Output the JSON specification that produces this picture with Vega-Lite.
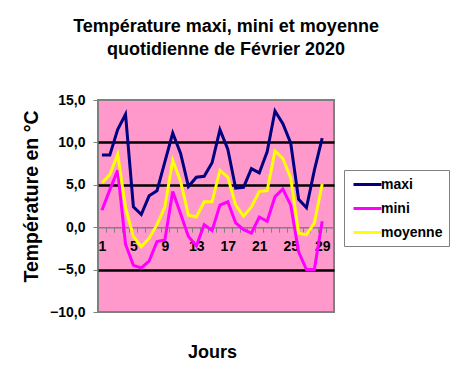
{
  "$schema": "https://vega.github.io/schema/vega-lite/v6.json",
  "autosize": {"type": "none"},
  "padding": {"left": 98, "top": 100, "right": 129, "bottom": 62},
  "width": 236,
  "height": 212,
  "background": "white",
  "title": {
    "text": ["Température maxi, mini et moyenne", "quotidienne de Février 2020"],
    "font": "Liberation Sans",
    "fontSize": 18,
    "fontWeight": "bold",
    "color": "black",
    "anchor": "middle",
    "frame": "group",
    "dx": 10,
    "offset": 34,
    "lineHeight": 23
  },
  "config": {
    "font": "Liberation Sans",
    "view": {"fill": "#FF99CC", "stroke": "#808080", "strokeWidth": 2}
  },
  "data": {
    "values": [
      {"jour": 1, "serie": "maxi", "valeur": 8.5}, {"jour": 1, "serie": "mini", "valeur": 2.0}, {"jour": 1, "serie": "moyenne", "valeur": 5.2},
      {"jour": 2, "serie": "maxi", "valeur": 8.5}, {"jour": 2, "serie": "mini", "valeur": 4.4}, {"jour": 2, "serie": "moyenne", "valeur": 6.2},
      {"jour": 3, "serie": "maxi", "valeur": 11.5}, {"jour": 3, "serie": "mini", "valeur": 6.7}, {"jour": 3, "serie": "moyenne", "valeur": 8.6},
      {"jour": 4, "serie": "maxi", "valeur": 13.3}, {"jour": 4, "serie": "mini", "valeur": -2.0}, {"jour": 4, "serie": "moyenne", "valeur": 2.3},
      {"jour": 5, "serie": "maxi", "valeur": 2.4}, {"jour": 5, "serie": "mini", "valeur": -4.5}, {"jour": 5, "serie": "moyenne", "valeur": -1.1},
      {"jour": 6, "serie": "maxi", "valeur": 1.5}, {"jour": 6, "serie": "mini", "valeur": -4.8}, {"jour": 6, "serie": "moyenne", "valeur": -2.3},
      {"jour": 7, "serie": "maxi", "valeur": 3.7}, {"jour": 7, "serie": "mini", "valeur": -4.0}, {"jour": 7, "serie": "moyenne", "valeur": -1.3},
      {"jour": 8, "serie": "maxi", "valeur": 4.3}, {"jour": 8, "serie": "mini", "valeur": -1.7}, {"jour": 8, "serie": "moyenne", "valeur": 0.3},
      {"jour": 9, "serie": "maxi", "valeur": 7.7}, {"jour": 9, "serie": "mini", "valeur": -1.5}, {"jour": 9, "serie": "moyenne", "valeur": 2.4},
      {"jour": 10, "serie": "maxi", "valeur": 11.1}, {"jour": 10, "serie": "mini", "valeur": 4.2}, {"jour": 10, "serie": "moyenne", "valeur": 7.9},
      {"jour": 11, "serie": "maxi", "valeur": 8.7}, {"jour": 11, "serie": "mini", "valeur": 1.6}, {"jour": 11, "serie": "moyenne", "valeur": 5.4},
      {"jour": 12, "serie": "maxi", "valeur": 4.8}, {"jour": 12, "serie": "mini", "valeur": -1.1}, {"jour": 12, "serie": "moyenne", "valeur": 1.4},
      {"jour": 13, "serie": "maxi", "valeur": 5.9}, {"jour": 13, "serie": "mini", "valeur": -2.2}, {"jour": 13, "serie": "moyenne", "valeur": 1.2},
      {"jour": 14, "serie": "maxi", "valeur": 6.0}, {"jour": 14, "serie": "mini", "valeur": 0.3}, {"jour": 14, "serie": "moyenne", "valeur": 3.0},
      {"jour": 15, "serie": "maxi", "valeur": 7.6}, {"jour": 15, "serie": "mini", "valeur": -0.4}, {"jour": 15, "serie": "moyenne", "valeur": 3.0},
      {"jour": 16, "serie": "maxi", "valeur": 11.5}, {"jour": 16, "serie": "mini", "valeur": 2.6}, {"jour": 16, "serie": "moyenne", "valeur": 6.7},
      {"jour": 17, "serie": "maxi", "valeur": 9.2}, {"jour": 17, "serie": "mini", "valeur": 3.0}, {"jour": 17, "serie": "moyenne", "valeur": 5.9},
      {"jour": 18, "serie": "maxi", "valeur": 4.6}, {"jour": 18, "serie": "mini", "valeur": 0.5}, {"jour": 18, "serie": "moyenne", "valeur": 2.6},
      {"jour": 19, "serie": "maxi", "valeur": 4.7}, {"jour": 19, "serie": "mini", "valeur": -0.3}, {"jour": 19, "serie": "moyenne", "valeur": 1.3},
      {"jour": 20, "serie": "maxi", "valeur": 6.9}, {"jour": 20, "serie": "mini", "valeur": -0.7}, {"jour": 20, "serie": "moyenne", "valeur": 2.4},
      {"jour": 21, "serie": "maxi", "valeur": 6.4}, {"jour": 21, "serie": "mini", "valeur": 1.2}, {"jour": 21, "serie": "moyenne", "valeur": 4.2},
      {"jour": 22, "serie": "maxi", "valeur": 8.9}, {"jour": 22, "serie": "mini", "valeur": 0.7}, {"jour": 22, "serie": "moyenne", "valeur": 4.3},
      {"jour": 23, "serie": "maxi", "valeur": 13.7}, {"jour": 23, "serie": "mini", "valeur": 3.6}, {"jour": 23, "serie": "moyenne", "valeur": 9.0},
      {"jour": 24, "serie": "maxi", "valeur": 12.2}, {"jour": 24, "serie": "mini", "valeur": 4.5}, {"jour": 24, "serie": "moyenne", "valeur": 8.1},
      {"jour": 25, "serie": "maxi", "valeur": 9.9}, {"jour": 25, "serie": "mini", "valeur": 2.6}, {"jour": 25, "serie": "moyenne", "valeur": 5.8},
      {"jour": 26, "serie": "maxi", "valeur": 3.3}, {"jour": 26, "serie": "mini", "valeur": -2.9}, {"jour": 26, "serie": "moyenne", "valeur": -0.7},
      {"jour": 27, "serie": "maxi", "valeur": 2.3}, {"jour": 27, "serie": "mini", "valeur": -5.0}, {"jour": 27, "serie": "moyenne", "valeur": -0.9},
      {"jour": 28, "serie": "maxi", "valeur": 6.7}, {"jour": 28, "serie": "mini", "valeur": -5.0}, {"jour": 28, "serie": "moyenne", "valeur": 0.5},
      {"jour": 29, "serie": "maxi", "valeur": 10.5}, {"jour": 29, "serie": "mini", "valeur": 0.7}, {"jour": 29, "serie": "moyenne", "valeur": 5.1}
    ]
  },
  "mark": {"type": "line", "strokeWidth": 3},
  "encoding": {
    "x": {
      "field": "jour",
      "type": "quantitative",
      "scale": {"domain": [0.5, 30.5], "nice": false, "zero": false},
      "axis": {
        "title": "Jours",
        "titleFontSize": 18,
        "titleFontWeight": "bold",
        "titleColor": "black",
        "titleX": 114,
        "titleY": 125,
        "titleAlign": "center",
        "titleBaseline": "middle",
        "offset": -84.8,
        "values": [0.5, 1.5, 2.5, 3.5, 4.5, 5.5, 6.5, 7.5, 8.5, 9.5, 10.5, 11.5, 12.5, 13.5, 14.5, 15.5, 16.5, 17.5, 18.5, 19.5, 20.5, 21.5, 22.5, 23.5, 24.5, 25.5, 26.5, 27.5, 28.5, 29.5, 30.5],
        "labelExpr": "((datum.value - 0.5) % 4 == 0 && datum.value < 29) ? format(datum.value + 0.5, 'd') : ''",
        "labelOffset": 3.93,
        "labelFontSize": 14,
        "labelFontWeight": "bold",
        "labelColor": "black",
        "labelPadding": 7,
        "labelAngle": 0,
        "labelOverlap": false,
        "labelFlush": false,
        "tickSize": 5,
        "tickColor": "#808080",
        "domainColor": "#808080",
        "domainWidth": 1.5,
        "grid": false
      }
    },
    "y": {
      "field": "valeur",
      "type": "quantitative",
      "scale": {"domain": [-10, 15], "nice": false, "zero": false},
      "axis": {
        "title": "Température en °C",
        "titleFontSize": 19.5,
        "titleFontWeight": "bold",
        "titleColor": "black",
        "titleAngle": 270,
        "titleX": -67,
        "titleY": 96,
        "titleAlign": "center",
        "titleBaseline": "middle",
        "values": [-10, -5, 0, 5, 10, 15],
        "labelExpr": "replace(format(datum.value, '.1f'), '.', ',')",
        "labelFontSize": 14,
        "labelFontWeight": "bold",
        "labelColor": "black",
        "labelPadding": 8,
        "tickSize": 5,
        "tickColor": "#808080",
        "domain": false,
        "grid": true,
        "gridColor": {"condition": {"test": "datum.value == 5 || datum.value == 10 || datum.value == -5", "value": "black"}, "value": "rgba(0,0,0,0)"},
        "gridWidth": 2.5
      }
    },
    "color": {
      "field": "serie",
      "type": "nominal",
      "scale": {"domain": ["maxi", "mini", "moyenne"], "range": ["#000080", "#FF00FF", "#FFFF00"]},
      "legend": {
        "title": null,
        "orient": "none",
        "legendX": 246,
        "legendY": 70,
        "fillColor": "white",
        "strokeColor": "#808080",
        "padding": 6,
        "symbolType": "M-2,0H2",
        "symbolSize": 196,
        "symbolStrokeWidth": 3,
        "symbolOffset": 9,
        "labelFontSize": 14,
        "labelFontWeight": "bold",
        "labelColor": "black",
        "labelOffset": 5,
        "rowPadding": 8
      }
    }
  }
}
